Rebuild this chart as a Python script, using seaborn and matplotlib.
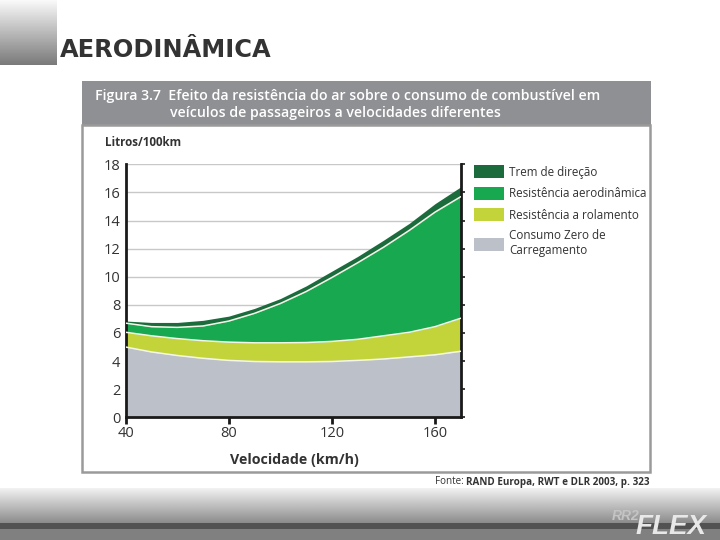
import numpy as np
import pandas as pd
import seaborn as sns
import matplotlib.pyplot as plt
from matplotlib.patches import Rectangle, Patch
from matplotlib.colors import LinearSegmentedColormap

# velocidade (km/h) e consumo por componente (L/100km)
velocidade = [40, 50, 60, 70, 80, 90, 100, 110, 120, 130, 140, 150, 160, 170]
consumo_zero = [5.0, 4.65, 4.4, 4.2, 4.05, 3.97, 3.95, 3.95, 3.97, 4.05, 4.15, 4.3, 4.45, 4.7]
rolamento = [1.05, 1.15, 1.2, 1.25, 1.3, 1.33, 1.35, 1.37, 1.43, 1.5, 1.65, 1.75, 2.0, 2.35]
aerodinamica = [0.65, 0.65, 0.8, 1.05, 1.5, 2.1, 2.8, 3.63, 4.55, 5.45, 6.3, 7.25, 8.15, 8.65]
trem = [0.15, 0.3, 0.35, 0.4, 0.35, 0.35, 0.35, 0.4, 0.45, 0.45, 0.5, 0.5, 0.6, 0.7]

nomes = ['Trem de direção', 'Resistência aerodinâmica', 'Resistência a rolamento',
         'Consumo Zero de\nCarregamento']
cores = ['#1b6b3c', '#17a850', '#c3d33a', '#bcc1c9']

y_ticks = [0, 2, 4, 6, 8, 10, 12, 14, 16, 18]
x_ticks = [40, 80, 120, 160]

sns.set_theme(style="white")
plt.rcParams['font.family'] = ['Open Sans', 'DejaVu Sans']

fig = plt.figure(figsize=(7.2, 5.4), dpi=100)

# fundo do slide em coordenadas de pixel
bg = fig.add_axes([0, 0, 1, 1])
bg.set_xlim(0, 720)
bg.set_ylim(540, 0)
bg.axis('off')

grad = np.linspace(0, 1, 100).reshape(-1, 1)
cm_caixa = LinearSegmentedColormap.from_list('caixa', ['#fafafa', '#7a7a7a'])
cm_rodape = LinearSegmentedColormap.from_list('rodape', ['#f2f2f2', '#8c8c8c'])
bg.imshow(grad, extent=(0, 57, 65, 0), cmap=cm_caixa, aspect='auto')
bg.text(60, 57, 'AERODINÂMICA', family='DejaVu Sans', weight='bold',
        fontsize=17.4, color='#333333', va='baseline', ha='left')

# rodapé
bg.imshow(grad, extent=(0, 720, 523, 488), cmap=cm_rodape, aspect='auto')
bg.add_patch(Rectangle((0, 523), 720, 6, color='#525252', lw=0))
bg.add_patch(Rectangle((0, 529), 720, 11, color='#808080', lw=0))
bg.add_patch(Rectangle((80, 80), 571, 408, color='white', lw=0))
bg.text(707, 534, 'FLEX', family='Liberation Sans', weight='bold', style='italic',
        fontsize=20, color='#e8e8e8', ha='right', va='baseline')
bg.text(640, 520, 'RR2', family='Liberation Sans', weight='bold', style='italic',
        fontsize=10, color='#c4c4c4', ha='right', va='baseline')

# cabeçalho do quadro
bg.add_patch(Rectangle((82, 81), 569, 44, color='#8f9094', lw=0))
bg.add_patch(Rectangle((82, 125), 568, 347, fill=False, edgecolor='#9a9a9a', lw=1.8))
bg.text(95, 96, 'Figura 3.7  Efeito da resistência do ar sobre o consumo de combustível em',
        color='white', fontsize=10.2, weight='semibold', va='center', ha='left')
bg.text(170, 113, 'veículos de passageiros a velocidades diferentes',
        color='white', fontsize=10.2, weight='semibold', va='center', ha='left')
bg.text(105, 142, 'Litros/100km', fontsize=8.4, weight='bold', color='#333333', va='center')
bg.text(294, 460, 'Velocidade (km/h)', fontsize=10.3, weight='bold', color='#333333',
        va='center', ha='center')
fonte = bg.text(650, 482, 'RAND Europa, RWT e DLR 2003, p. 323', fontsize=7.1, weight='bold',
                color='#333333', va='center', ha='right')
bg.annotate('Fonte: ', xy=(0, 0.5), xycoords=fonte, fontsize=7.1, color='#333333',
            va='center', ha='right')

# gráfico
ax = fig.add_axes([0.1746, 0.2272, 0.4654, 0.4685])
ax.set_facecolor('none')
camadas = [consumo_zero, rolamento, aerodinamica, trem]
ax.stackplot(velocidade, camadas, colors=cores[::-1], lw=0, zorder=2)

acum = np.cumsum(np.array(camadas), axis=0)
for i in range(3):
    df = pd.DataFrame({'v': velocidade, 'c': acum[i]})
    sns.lineplot(data=df, x='v', y='c', color='#f4f6e8', lw=1.1, ax=ax, zorder=3)

for yv in y_ticks[1:]:
    ax.axhline(yv, color='#c8c8c8', lw=1, zorder=1)

ax.set_xlim(40, 170)
ax.set_ylim(0, 18)
ax.set_xticks(x_ticks)
ax.set_yticks(y_ticks)
ax.set_xlabel('')
ax.set_ylabel('')
for s in ['left', 'bottom', 'right']:
    ax.spines[s].set_color('#1a1a1a')
    ax.spines[s].set_linewidth(2)
ax.spines['top'].set_visible(False)
ax.tick_params(axis='x', bottom=True, length=5, width=2, color='#1a1a1a',
               labelsize=10.5, labelcolor='#333333', pad=1)
ax.tick_params(axis='y', left=False, right=True, length=3, width=1.2, color='#1a1a1a',
               labelsize=10.5, labelcolor='#333333', pad=1)

handles = [Patch(facecolor=c, edgecolor='none') for c in cores]
leg = fig.legend(handles, nomes, loc='upper left', bbox_to_anchor=(465 / 720, 1 - 156 / 540),
                 frameon=False, fontsize=8.4, handlelength=2.5, handleheight=1.35,
                 labelspacing=0.68, handletextpad=0.5, borderpad=0.3)
for t in leg.get_texts():
    t.set_color('#333333')
    t.set_linespacing(1.2)

fig.savefig('out.png', dpi=100)
